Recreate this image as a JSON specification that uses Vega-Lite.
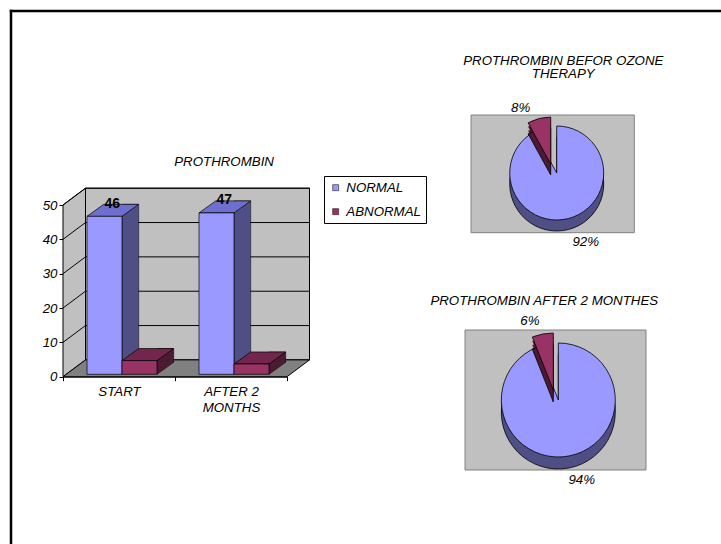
{
  "$schema": "https://vega.github.io/schema/vega-lite/v6.json",
  "width": 710,
  "height": 533,
  "autosize": {"type": "none"},
  "padding": {"left": 11, "top": 11, "right": 0, "bottom": 0},
  "background": "white",
  "config": {
    "view": {"stroke": null},
    "font": "Liberation Sans",
    "axis": {
      "labelFont": "Liberation Sans",
      "labelFontStyle": "italic",
      "labelFontSize": 13.3,
      "labelColor": "black",
      "domainColor": "black",
      "domainWidth": 1,
      "tickColor": "black",
      "tickWidth": 1,
      "tickSize": 4,
      "grid": false
    }
  },
  "datasets": {
    "prothrombin": [
      {"time": "START", "status": "NORMAL", "value": 46},
      {"time": "START", "status": "ABNORMAL", "value": 4},
      {"time": "AFTER 2 MONTHS", "status": "NORMAL", "value": 47},
      {"time": "AFTER 2 MONTHS", "status": "ABNORMAL", "value": 3}
    ],
    "before": [
      {"status": "NORMAL", "share": 0.92},
      {"status": "ABNORMAL", "share": 0.08}
    ],
    "after": [
      {"status": "NORMAL", "share": 0.94},
      {"status": "ABNORMAL", "share": 0.06}
    ],
    "gridTicks": [
      {"tick": 10}, {"tick": 20}, {"tick": 30}, {"tick": 40}, {"tick": 50}
    ]
  },
  "layer": [
    {
      "data": {"values": [{}]},
      "layer": [
        {
          "mark": {"type": "rule", "color": "black", "strokeWidth": 2.5, "strokeCap": "square"},
          "encoding": {"x": {"datum": 0, "type": "quantitative", "scale": {"domain": [0, 1], "nice": false}, "axis": null}}
        },
        {
          "mark": {"type": "rule", "color": "black", "strokeWidth": 2.5, "strokeCap": "square"},
          "encoding": {"y": {"datum": 1, "type": "quantitative", "scale": {"domain": [0, 1], "nice": false}, "axis": null}}
        }
      ]
    },
    {
      "layer": [
        {
          "data": {"values": [{}]},
          "mark": {"type": "rect", "fill": "#C0C0C0", "stroke": "black", "strokeWidth": 1, "xOffset": 22.5, "x2Offset": 22.5, "yOffset": -16.8, "y2Offset": -16.8},
          "encoding": {
            "x": {"datum": 0, "type": "quantitative", "scale": {"domain": [0, 1], "range": [52, 276], "nice": false, "zero": false}, "axis": null},
            "x2": {"datum": 1},
            "y": {"datum": 0, "type": "quantitative", "scale": {"domain": [0, 50], "range": [365.7, 194], "nice": false, "zero": false}, "axis": null},
            "y2": {"datum": 50}
          }
        },
        {
          "data": {"values": [{}]},
          "mark": {"type": "point", "shape": "M0,0L0,-171.7L22.5,-188.5L22.5,-16.8Z", "size": 4, "filled": true, "opacity": 1, "fill": "#C0C0C0", "stroke": "black", "strokeWidth": 1},
          "encoding": {
            "x": {"datum": 0, "type": "quantitative", "scale": {"domain": [0, 1], "range": [52, 276], "nice": false, "zero": false}, "axis": null},
            "y": {"datum": 0, "type": "quantitative", "scale": {"domain": [0, 50], "range": [365.7, 194], "nice": false, "zero": false}, "axis": null}
          }
        },
        {
          "data": {"values": [{}]},
          "mark": {"type": "point", "shape": "M0,0L224,0L246.5,-16.8L22.5,-16.8Z", "size": 4, "filled": true, "opacity": 1, "fill": "#808080", "stroke": "black", "strokeWidth": 1},
          "encoding": {
            "x": {"datum": 0, "type": "quantitative", "scale": {"domain": [0, 1], "range": [52, 276], "nice": false, "zero": false}, "axis": null},
            "y": {"datum": 0, "type": "quantitative", "scale": {"domain": [0, 50], "range": [365.7, 194], "nice": false, "zero": false}, "axis": null}
          }
        },
        {
          "data": {"name": "gridTicks"},
          "mark": {"type": "rule", "color": "black", "strokeWidth": 1, "xOffset": 22.5, "x2Offset": 22.5, "yOffset": -16.8, "y2Offset": -16.8},
          "encoding": {
            "x": {"datum": 0, "type": "quantitative", "scale": {"domain": [0, 1], "range": [52, 276], "nice": false, "zero": false}, "axis": null},
            "x2": {"datum": 1},
            "y": {"field": "tick", "type": "quantitative", "scale": {"domain": [0, 50], "range": [365.7, 194], "nice": false, "zero": false}, "axis": null}
          }
        },
        {
          "data": {"name": "gridTicks"},
          "mark": {"type": "rule", "color": "black", "strokeWidth": 1, "x2Offset": 22.5, "y2Offset": -16.8},
          "encoding": {
            "x": {"datum": 0, "type": "quantitative", "scale": {"domain": [0, 1], "range": [52, 276], "nice": false, "zero": false}, "axis": null},
            "x2": {"datum": 0},
            "y": {"field": "tick", "type": "quantitative", "scale": {"domain": [0, 50], "range": [365.7, 194], "nice": false, "zero": false}, "axis": null},
            "y2": {"field": "tick"}
          }
        },
        {
          "data": {"values": [{}]},
          "mark": {"type": "text", "text": "PROTHROMBIN", "fontSize": 13.3, "fontStyle": "italic", "color": "black", "align": "center", "baseline": "middle"},
          "encoding": {
            "x": {"datum": 0.719, "type": "quantitative", "scale": {"domain": [0, 1], "range": [52, 276], "nice": false, "zero": false}, "axis": null},
            "y": {"datum": 62.6, "type": "quantitative", "scale": {"domain": [0, 50], "range": [365.7, 194], "nice": false, "zero": false}, "axis": null}
          }
        }
      ]
    },
    {
      "data": {"name": "prothrombin"},
      "encoding": {
        "x": {
          "field": "time", "type": "nominal", "title": null,
          "scale": {"domain": ["START", "AFTER 2 MONTHS"], "range": [52, 276], "paddingInner": 0, "paddingOuter": 0},
          "axis": {"orient": "bottom", "offset": -167.3, "tickBand": "extent", "labelAngle": 0, "labelPadding": 4, "labelLineHeight": 16,
                   "labelExpr": "datum.value === 'AFTER 2 MONTHS' ? ['AFTER 2', 'MONTHS'] : datum.label"}
        },
        "y": {
          "field": "value", "type": "quantitative", "title": null,
          "scale": {"domain": [0, 50], "range": [365.7, 194], "nice": false},
          "axis": {"orient": "left", "offset": -52, "values": [0, 10, 20, 30, 40, 50], "labelPadding": 2}
        }
      },
      "layer": [
        {
          "transform": [{"filter": "datum.status === 'NORMAL'"}],
          "layer": [
            {
              "mark": {"type": "bar", "width": 16.7, "xOffset": 11.35, "yOffset": -14.4, "fill": "#4F4F86", "stroke": "black", "strokeWidth": 0.5}
            },
            {
              "mark": {"type": "point", "shape": "M34.2,-12L17.5,0L17.5,-12", "size": 4, "filled": true, "opacity": 1, "xOffset": -14.5, "yOffset": -2.4, "fill": "#4F4F86", "stroke": "black", "strokeWidth": 0.5},
              "encoding": {"y": {"datum": 0, "type": "quantitative", "title": null}}
            },
            {
              "mark": {"type": "point", "shape": "M-17.5,0L17.5,0L34.2,-12L-0.8,-12Z", "size": 4, "filled": true, "opacity": 1, "xOffset": -14.5, "yOffset": -2.4, "fill": "#6F6FCF", "stroke": "black", "strokeWidth": 0.7}
            },
            {
              "mark": {"type": "bar", "width": 35, "xOffset": -14.5, "yOffset": -2.4, "stroke": "black", "strokeWidth": 0.7},
              "encoding": {
                "color": {
                  "field": "status", "type": "nominal",
                  "scale": {"domain": ["NORMAL", "ABNORMAL"], "range": ["#9999FF", "#993366"]},
                  "legend": {
                    "title": null, "orient": "none", "legendX": 313, "legendY": 165, "direction": "vertical",
                    "padding": 5, "strokeColor": "black", "fillColor": "white",
                    "symbolType": "square", "symbolSize": 36, "symbolStrokeColor": "black", "symbolStrokeWidth": 0.5, "symbolOpacity": 1,
                    "labelFont": "Liberation Sans", "labelFontStyle": "italic", "labelFontSize": 13.3, "labelColor": "black",
                    "labelOffset": 4, "rowPadding": 10
                  }
                }
              }
            }
          ]
        },
        {
          "transform": [{"filter": "datum.status === 'ABNORMAL'"}],
          "layer": [
            {
              "mark": {"type": "bar", "width": 16.7, "xOffset": 46.35, "yOffset": -14.4, "fill": "#4D1A33", "stroke": "black", "strokeWidth": 0.5}
            },
            {
              "mark": {"type": "point", "shape": "M34.2,-12L17.5,0L17.5,-12", "size": 4, "filled": true, "opacity": 1, "xOffset": 20.5, "yOffset": -2.4, "fill": "#4D1A33", "stroke": "black", "strokeWidth": 0.5},
              "encoding": {"y": {"datum": 0, "type": "quantitative", "title": null}}
            },
            {
              "mark": {"type": "point", "shape": "M-17.5,0L17.5,0L34.2,-12L-0.8,-12Z", "size": 4, "filled": true, "opacity": 1, "xOffset": 20.5, "yOffset": -2.4, "fill": "#73264D", "stroke": "black", "strokeWidth": 0.7}
            },
            {
              "mark": {"type": "bar", "width": 35, "xOffset": 20.5, "yOffset": -2.4, "stroke": "black", "strokeWidth": 0.7},
              "encoding": {
                "color": {
                  "field": "status", "type": "nominal",
                  "scale": {"domain": ["NORMAL", "ABNORMAL"], "range": ["#9999FF", "#993366"]},
                  "legend": {
                    "title": null, "orient": "none", "legendX": 313, "legendY": 165, "direction": "vertical",
                    "padding": 5, "strokeColor": "black", "fillColor": "white",
                    "symbolType": "square", "symbolSize": 36, "symbolStrokeColor": "black", "symbolStrokeWidth": 0.5, "symbolOpacity": 1,
                    "labelFont": "Liberation Sans", "labelFontStyle": "italic", "labelFontSize": 13.3, "labelColor": "black",
                    "labelOffset": 4, "rowPadding": 10
                  }
                }
              }
            }
          ]
        },
        {
          "transform": [{"filter": "datum.status === 'NORMAL'"}],
          "mark": {"type": "text", "fontSize": 14, "fontWeight": "bold", "color": "black", "align": "center", "baseline": "middle", "xOffset": -6.8, "yOffset": -15},
          "encoding": {"text": {"field": "value", "type": "quantitative"}}
        }
      ]
    },
    {
      "layer": [
        {
          "data": {"values": [{}]},
          "mark": {"type": "rect", "fill": "#C0C0C0", "stroke": "#808080", "strokeWidth": 1},
          "encoding": {
            "x": {"datum": 0, "type": "quantitative", "scale": {"domain": [0, 1], "range": [460, 623.3], "nice": false, "zero": false}, "axis": null},
            "x2": {"datum": 1},
            "y": {"datum": 0, "type": "quantitative", "scale": {"domain": [0, 1], "range": [104, 221.7], "nice": false, "zero": false}, "axis": null},
            "y2": {"datum": 1}
          }
        },
        {
          "data": {"values": [{}]},
          "mark": {"type": "text", "text": ["PROTHROMBIN BEFOR OZONE", "THERAPY"], "lineHeight": 13.6, "fontSize": 13.3, "fontStyle": "italic", "color": "black", "align": "center", "baseline": "middle"},
          "encoding": {
            "x": {"datum": 0.565, "type": "quantitative", "scale": {"domain": [0, 1], "range": [460, 623.3], "nice": false, "zero": false}, "axis": null},
            "y": {"datum": -0.461, "type": "quantitative", "scale": {"domain": [0, 1], "range": [104, 221.7], "nice": false, "zero": false}, "axis": null}
          }
        },
        {
          "data": {"name": "before"},
          "encoding": {
            "x": {"datum": 0.525, "type": "quantitative", "scale": {"domain": [0, 1], "range": [460, 623.3], "nice": false, "zero": false}, "axis": null},
            "y": {"datum": 0.4928, "type": "quantitative", "scale": {"domain": [0, 1], "range": [104, 221.7], "nice": false, "zero": false}, "axis": null},
            "theta": {"field": "share", "type": "quantitative", "stack": true},
            "order": {"field": "share", "sort": "descending"}
          },
          "layer": [
            {"mark": {"type": "arc", "radius": 47, "yOffset": 4, "fill": "#4F4F86"},
             "encoding": {"opacity": {"condition": {"test": "datum.status === 'NORMAL'", "value": 1}, "value": 0}}},
            {"mark": {"type": "arc", "radius": 47, "yOffset": 8, "fill": "#4F4F86"},
             "encoding": {"opacity": {"condition": {"test": "datum.status === 'NORMAL'", "value": 1}, "value": 0}}},
            {"mark": {"type": "arc", "radius": 47, "yOffset": 11, "fill": "#4F4F86", "stroke": "black", "strokeWidth": 0.8},
             "encoding": {"opacity": {"condition": {"test": "datum.status === 'NORMAL'", "value": 1}, "value": 0}}},
            {"mark": {"type": "arc", "radius": 47, "fill": "#9999FF", "stroke": "black", "strokeWidth": 0.8},
             "encoding": {"opacity": {"condition": {"test": "datum.status === 'NORMAL'", "value": 1}, "value": 0}}},
            {"mark": {"type": "arc", "radius": 47, "xOffset": -6, "yOffset": -5, "fill": "#4D1A33"},
             "encoding": {"opacity": {"condition": {"test": "datum.status === 'ABNORMAL'", "value": 1}, "value": 0}}},
            {"mark": {"type": "arc", "radius": 47, "xOffset": -6, "yOffset": -1, "fill": "#4D1A33"},
             "encoding": {"opacity": {"condition": {"test": "datum.status === 'ABNORMAL'", "value": 1}, "value": 0}}},
            {"mark": {"type": "arc", "radius": 47, "xOffset": -6, "yOffset": 2, "fill": "#4D1A33", "stroke": "black", "strokeWidth": 0.8},
             "encoding": {"opacity": {"condition": {"test": "datum.status === 'ABNORMAL'", "value": 1}, "value": 0}}},
            {"mark": {"type": "arc", "radius": 47, "xOffset": -6, "yOffset": -9, "fill": "#993366", "stroke": "black", "strokeWidth": 0.8},
             "encoding": {"opacity": {"condition": {"test": "datum.status === 'ABNORMAL'", "value": 1}, "value": 0}}},
            {"mark": {"type": "text", "radius": 71, "xOffset": 11.3, "fontSize": 13.3, "fontStyle": "italic", "color": "black"},
             "encoding": {
               "text": {"field": "share", "type": "quantitative", "format": ".0%"},
               "opacity": {"condition": {"test": "datum.status === 'NORMAL'", "value": 1}, "value": 0}}},
            {"mark": {"type": "text", "radius": 57.5, "xOffset": -21.7, "yOffset": -9, "fontSize": 13.3, "fontStyle": "italic", "color": "black"},
             "encoding": {
               "text": {"field": "share", "type": "quantitative", "format": ".0%"},
               "opacity": {"condition": {"test": "datum.status === 'ABNORMAL'", "value": 1}, "value": 0}}}
          ]
        }
      ]
    },
    {
      "layer": [
        {
          "data": {"values": [{}]},
          "mark": {"type": "rect", "fill": "#C0C0C0", "stroke": "#808080", "strokeWidth": 1},
          "encoding": {
            "x": {"datum": 0, "type": "quantitative", "scale": {"domain": [0, 1], "range": [454, 635], "nice": false, "zero": false}, "axis": null},
            "x2": {"datum": 1},
            "y": {"datum": 0, "type": "quantitative", "scale": {"domain": [0, 1], "range": [319, 459], "nice": false, "zero": false}, "axis": null},
            "y2": {"datum": 1}
          }
        },
        {
          "data": {"values": [{}]},
          "mark": {"type": "text", "text": "PROTHROMBIN AFTER 2 MONTHES", "fontSize": 13.3, "fontStyle": "italic", "color": "black", "align": "center", "baseline": "middle"},
          "encoding": {
            "x": {"datum": 0.438, "type": "quantitative", "scale": {"domain": [0, 1], "range": [454, 635], "nice": false, "zero": false}, "axis": null},
            "y": {"datum": -0.207, "type": "quantitative", "scale": {"domain": [0, 1], "range": [319, 459], "nice": false, "zero": false}, "axis": null}
          }
        },
        {
          "data": {"name": "after"},
          "encoding": {
            "x": {"datum": 0.5155, "type": "quantitative", "scale": {"domain": [0, 1], "range": [454, 635], "nice": false, "zero": false}, "axis": null},
            "y": {"datum": 0.5, "type": "quantitative", "scale": {"domain": [0, 1], "range": [319, 459], "nice": false, "zero": false}, "axis": null},
            "theta": {"field": "share", "type": "quantitative", "stack": true},
            "order": {"field": "share", "sort": "descending"}
          },
          "layer": [
            {"mark": {"type": "arc", "radius": 57, "yOffset": 4, "fill": "#4F4F86"},
             "encoding": {"opacity": {"condition": {"test": "datum.status === 'NORMAL'", "value": 1}, "value": 0}}},
            {"mark": {"type": "arc", "radius": 57, "yOffset": 8, "fill": "#4F4F86"},
             "encoding": {"opacity": {"condition": {"test": "datum.status === 'NORMAL'", "value": 1}, "value": 0}}},
            {"mark": {"type": "arc", "radius": 57, "yOffset": 12, "fill": "#4F4F86", "stroke": "black", "strokeWidth": 0.8},
             "encoding": {"opacity": {"condition": {"test": "datum.status === 'NORMAL'", "value": 1}, "value": 0}}},
            {"mark": {"type": "arc", "radius": 57, "fill": "#9999FF", "stroke": "black", "strokeWidth": 0.8},
             "encoding": {"opacity": {"condition": {"test": "datum.status === 'NORMAL'", "value": 1}, "value": 0}}},
            {"mark": {"type": "arc", "radius": 57, "xOffset": -5, "yOffset": -6, "fill": "#4D1A33"},
             "encoding": {"opacity": {"condition": {"test": "datum.status === 'ABNORMAL'", "value": 1}, "value": 0}}},
            {"mark": {"type": "arc", "radius": 57, "xOffset": -5, "yOffset": -2, "fill": "#4D1A33"},
             "encoding": {"opacity": {"condition": {"test": "datum.status === 'ABNORMAL'", "value": 1}, "value": 0}}},
            {"mark": {"type": "arc", "radius": 57, "xOffset": -5, "yOffset": 2, "fill": "#4D1A33", "stroke": "black", "strokeWidth": 0.8},
             "encoding": {"opacity": {"condition": {"test": "datum.status === 'ABNORMAL'", "value": 1}, "value": 0}}},
            {"mark": {"type": "arc", "radius": 57, "xOffset": -5, "yOffset": -10, "fill": "#993366", "stroke": "black", "strokeWidth": 0.8},
             "encoding": {"opacity": {"condition": {"test": "datum.status === 'ABNORMAL'", "value": 1}, "value": 0}}},
            {"mark": {"type": "text", "radius": 81.5, "xOffset": 8.2, "fontSize": 13.3, "fontStyle": "italic", "color": "black"},
             "encoding": {
               "text": {"field": "share", "type": "quantitative", "format": ".0%"},
               "opacity": {"condition": {"test": "datum.status === 'NORMAL'", "value": 1}, "value": 0}}},
            {"mark": {"type": "text", "radius": 70.3, "xOffset": -15.2, "yOffset": -10, "fontSize": 13.3, "fontStyle": "italic", "color": "black"},
             "encoding": {
               "text": {"field": "share", "type": "quantitative", "format": ".0%"},
               "opacity": {"condition": {"test": "datum.status === 'ABNORMAL'", "value": 1}, "value": 0}}}
          ]
        }
      ]
    }
  ],
  "resolve": {
    "scale": {"x": "independent", "y": "independent", "theta": "independent"},
    "axis": {"x": "independent", "y": "independent"}
  }
}
